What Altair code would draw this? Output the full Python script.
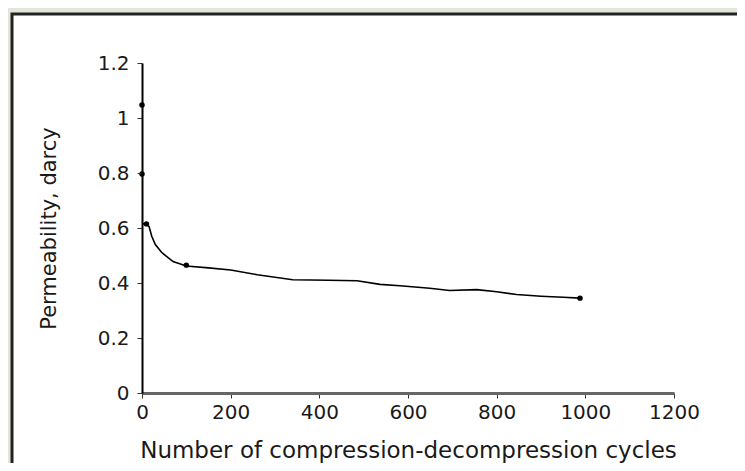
import altair as alt
import pandas as pd

# curve data (cycles, permeability)
cycles = [0, 10, 16, 22, 30, 45, 70, 100, 150, 200, 260, 340, 420, 485, 537, 582, 649, 694, 755, 800, 845, 900, 950, 988]
perm = [0.615, 0.615, 0.605, 0.57, 0.54, 0.51, 0.478, 0.462, 0.455, 0.447, 0.43, 0.412, 0.41, 0.408, 0.395, 0.39, 0.381, 0.373, 0.376, 0.368, 0.358, 0.352, 0.348, 0.345]

# marker points
pt_cycles = [0, 0, 10, 100, 988]
pt_perm = [1.047, 0.796, 0.615, 0.465, 0.345]

y_ticks = [0, 0.2, 0.4, 0.6, 0.8, 1.0, 1.2]
x_ticks = [0, 200, 400, 600, 800, 1000, 1200]

line_df = pd.DataFrame({"cycles": cycles, "perm": perm})
pt_df = pd.DataFrame({"cycles": pt_cycles, "perm": pt_perm})

FONT = "DejaVu Sans"

x_enc = alt.X("cycles:Q",
              scale=alt.Scale(domain=[0, 1200], nice=False),
              axis=alt.Axis(values=x_ticks, format="d",
                            title="Number of compression-decompression cycles",
                            grid=False, domainColor="#666666", domainWidth=3,
                            tickColor="#333333", tickSize=5, labelFontSize=20,
                            labelFont=FONT, labelColor="#1a1a1a", labelPadding=4,
                            labelFlush=False,
                            titleFont=FONT, titleFontSize=23, titleFontWeight="normal",
                            titleColor="#1a1a1a", titlePadding=17, zindex=2))
y_enc = alt.Y("perm:Q",
              scale=alt.Scale(domain=[0, 1.2], nice=False),
              axis=alt.Axis(values=y_ticks, title="Permeability, darcy",
                            grid=False, domainColor="#000000", domainWidth=2,
                            tickColor="#333333", tickSize=5, labelFontSize=20,
                            labelFont=FONT, labelColor="#1a1a1a", labelPadding=8,
                            labelExpr="datum.value == 1 ? '1' : datum.value == 0 ? '0' : format(datum.value, '.1f')",
                            titleFont=FONT, titleFontSize=21, titleFontWeight="normal",
                            titleColor="#1a1a1a", titlePadding=38, zindex=2))

panel = alt.Chart(pd.DataFrame({"a": [0]})).mark_rect(
    fill="white", stroke="#222222", strokeWidth=3
).encode(
    x=alt.value(-130), x2=alt.value(640),
    y=alt.value(-49), y2=alt.value(460)
)

line = alt.Chart(line_df).mark_line(
    color="black", strokeWidth=1.6, interpolate="linear"
).encode(x=x_enc, y=y_enc)

points = alt.Chart(pt_df).mark_point(
    filled=True, color="black", size=30, opacity=1
).encode(x="cycles:Q", y="perm:Q")

chart = alt.layer(panel, line, points).properties(
    width=532, height=330,
    autosize=alt.AutoSizeParams(type="none"),
    padding={"left": 134, "top": 55, "right": 63, "bottom": 70},
    background="#e0e6d8"
).configure_view(stroke=None)

chart.save("out.html", embed_options={"renderer": "svg", "actions": False})
